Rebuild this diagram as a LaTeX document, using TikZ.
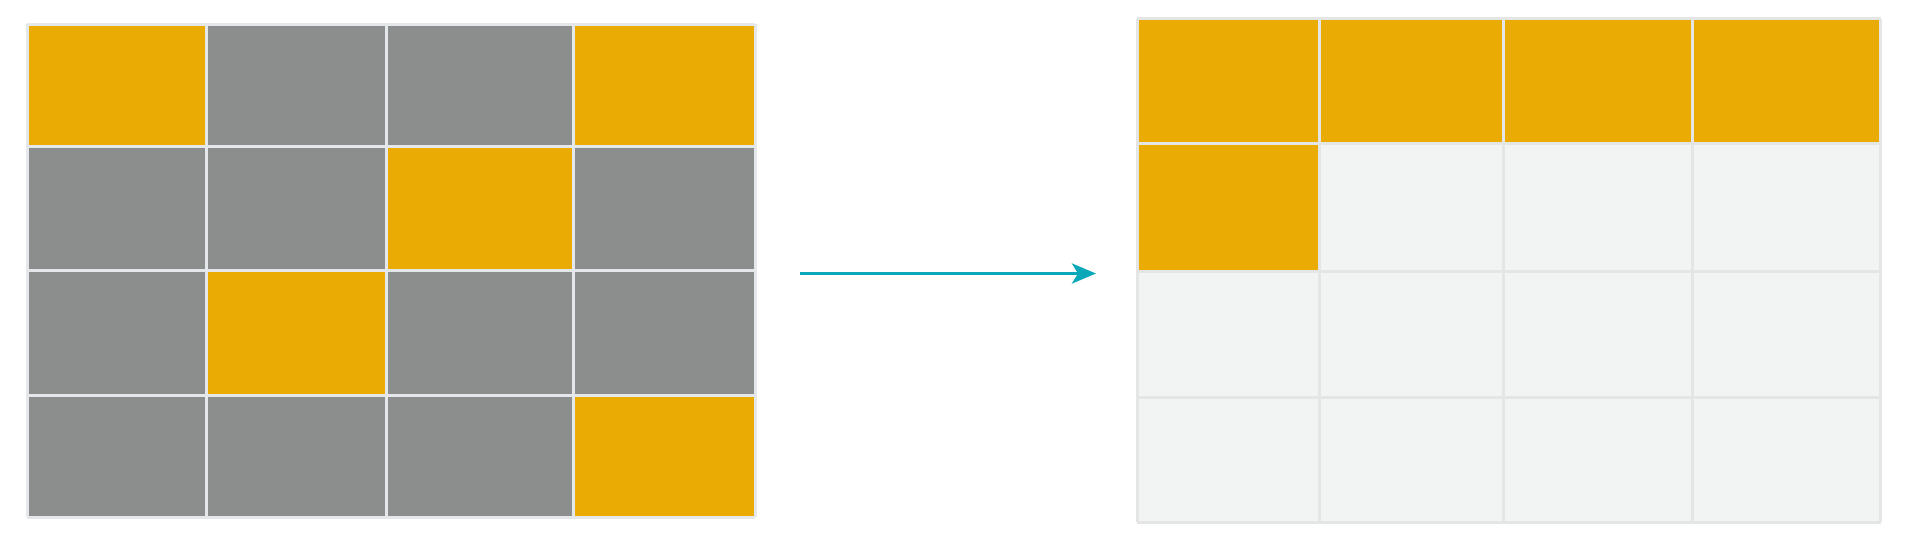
\documentclass[tikz,border=0pt]{standalone}
\usetikzlibrary{arrows.meta}
\definecolor{org}{HTML}{EAAB05}
\definecolor{gry}{HTML}{8B8E8C}
\definecolor{lgt}{HTML}{F2F4F3}
\definecolor{gline}{HTML}{E4E8EA}
\definecolor{rline}{HTML}{E3E6E4}
\definecolor{teal}{HTML}{0BA8BA}
\tikzset{
  gridL/.style={draw=gline, line width=3pt},
  gridR/.style={draw=rline, line width=3pt},
  arr/.style={draw=teal, line width=3.5pt, -{Stealth[length=24pt,width=20pt,inset=6pt]}}
}
\begin{document}
\begin{tikzpicture}[x=1pt,y=-1pt]
\useasboundingbox (0,0) rectangle (1909,544);
% left grid
\def\LX{{27,206.5,386.5,573,755}}
\def\LY{{24,146,270.5,395,517}}
% cell colours left: row by row
\foreach \r/\c/\col in {0/0/org,0/1/gry,0/2/gry,0/3/org,
                        1/0/gry,1/1/gry,1/2/org,1/3/gry,
                        2/0/gry,2/1/org,2/2/gry,2/3/gry,
                        3/0/gry,3/1/gry,3/2/gry,3/3/org}{
  \pgfmathsetmacro{\xa}{\LX[\c]}
  \pgfmathsetmacro{\xb}{\LX[\c+1]}
  \pgfmathsetmacro{\ya}{\LY[\r]}
  \pgfmathsetmacro{\yb}{\LY[\r+1]}
  \fill[\col] (\xa,\ya) rectangle (\xb,\yb);
}
\foreach \i in {0,...,4}{
  \pgfmathsetmacro{\xx}{\LX[\i]}
  \draw[gridL] (\xx,24) -- (\xx,517);
  \pgfmathsetmacro{\yy}{\LY[\i]}
  \draw[gridL] (27,\yy) -- (755,\yy);
}
% right grid
\def\RX{{1137,1319.5,1503,1692.5,1880.5}}
\def\RY{{18.5,143.5,271,397,522}}
\foreach \r/\c/\col in {0/0/org,0/1/org,0/2/org,0/3/org,
                        1/0/org,1/1/lgt,1/2/lgt,1/3/lgt,
                        2/0/lgt,2/1/lgt,2/2/lgt,2/3/lgt,
                        3/0/lgt,3/1/lgt,3/2/lgt,3/3/lgt}{
  \pgfmathsetmacro{\xa}{\RX[\c]}
  \pgfmathsetmacro{\xb}{\RX[\c+1]}
  \pgfmathsetmacro{\ya}{\RY[\r]}
  \pgfmathsetmacro{\yb}{\RY[\r+1]}
  \fill[\col] (\xa,\ya) rectangle (\xb,\yb);
}
\foreach \i in {0,...,4}{
  \pgfmathsetmacro{\xx}{\RX[\i]}
  \draw[gridR] (\xx,18.5) -- (\xx,522);
  \pgfmathsetmacro{\yy}{\RY[\i]}
  \draw[gridR] (1137,\yy) -- (1880.5,\yy);
}
% arrow
\coordinate (s) at (800,273.5);
\coordinate (t) at (1096,273.5);
\draw[arr] (s) -- (t);
\end{tikzpicture}
\end{document}
